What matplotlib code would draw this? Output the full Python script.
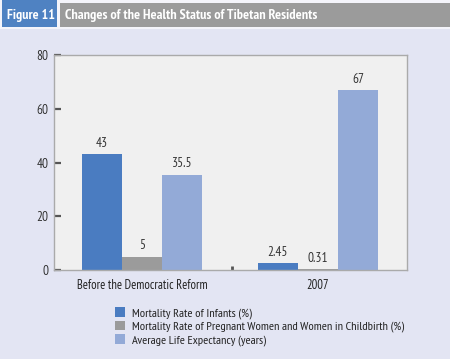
import matplotlib
matplotlib.use("Agg")
import matplotlib.pyplot as plt
from matplotlib.patches import Rectangle
import numpy as np

plt.rcParams['font.family'] = ['PT Sans Narrow', 'Liberation Sans Narrow', 'DejaVu Sans']

groups = ['Before the Democratic Reform', '2007']
series = [
    'Mortality Rate of Infants (%)',
    'Mortality Rate of Pregnant Women and Women in Childbirth (%)',
    'Average Life Expectancy (years)',
]
infants = [43, 2.45]
maternal = [5, 0.31]
life_exp = [35.5, 67]
value_labels = [['43', '2.45'], ['5', '0.31'], ['35.5', '67']]
colors = ['#4a7cc1', '#9b9b9b', '#93aad7']

bg = '#e3e5f3'
fig = plt.figure(figsize=(4.5, 3.59), dpi=100, facecolor=bg)

# header band
fig.patches.append(Rectangle((0, 1 - 29 / 359), 1, 29 / 359, transform=fig.transFigure,
                             facecolor='#f4f4fa', edgecolor='none', zorder=0))
fig.patches.append(Rectangle((0.004, 1 - 27 / 359), 55 / 450, 27 / 359, transform=fig.transFigure,
                             facecolor='#4f82c2', edgecolor='none', zorder=1))
fig.patches.append(Rectangle((60 / 450, 1 - 27 / 359), 1, 24 / 359, transform=fig.transFigure,
                             facecolor='#9b9b9b', edgecolor='none', zorder=1))
fig.text(31 / 450, 1 - 15 / 359, 'Figure 11', color='white', fontsize=10, fontweight='bold',
         ha='center', va='center')
fig.text(65 / 450, 1 - 15 / 359, 'Changes of the Health Status of Tibetan Residents',
         color='white', fontsize=10.2, fontweight='bold', ha='left', va='center')

ax = fig.add_axes([54 / 450, 1 - 270 / 359, 353 / 450, 215 / 359])
ax.set_facecolor('#f0f0f0')

x = np.arange(len(groups))
w = 40 / 176
for i, vals in enumerate([infants, maternal, life_exp]):
    pos = x + (i - 1) * w
    ax.bar(pos, vals, width=w, color=colors[i], label=series[i], zorder=2)
    for p, v, t in zip(pos, vals, value_labels[i]):
        ax.text(p, v + 1.6, t, ha='center', va='bottom', fontsize=9.5, color='#333333')

ax.set_xlim(-0.5, 1.506)
ax.set_ylim(0, 80)
ax.set_yticks([0, 20, 40, 60, 80])
ax.tick_params(axis='y', direction='in', length=5, width=1.6, color='#555555',
               labelsize=9.5, labelcolor='#333333', pad=4)
ax.set_xticks([0.511])
ax.set_xticklabels([''])
ax.tick_params(axis='x', direction='in', length=3, width=2, color='#555555')

for gx, g in zip(x, groups):
    ax.text(gx, -3.5, g, ha='center', va='top', fontsize=9, color='#222222')

for s in ax.spines.values():
    s.set_color('#aaaaaa')
    s.set_linewidth(1)

handles, labels = ax.get_legend_handles_labels()
leg = fig.legend(handles, labels, loc='upper left', bbox_to_anchor=(115 / 450, 1 - 307 / 359),
                 frameon=False, fontsize=8.8, handlelength=0.85, handleheight=0.85,
                 handletextpad=0.5, labelspacing=0.15, borderaxespad=0, borderpad=0)
for t in leg.get_texts():
    t.set_color('#222222')

fig.savefig('out.png', dpi=100, facecolor=bg)
